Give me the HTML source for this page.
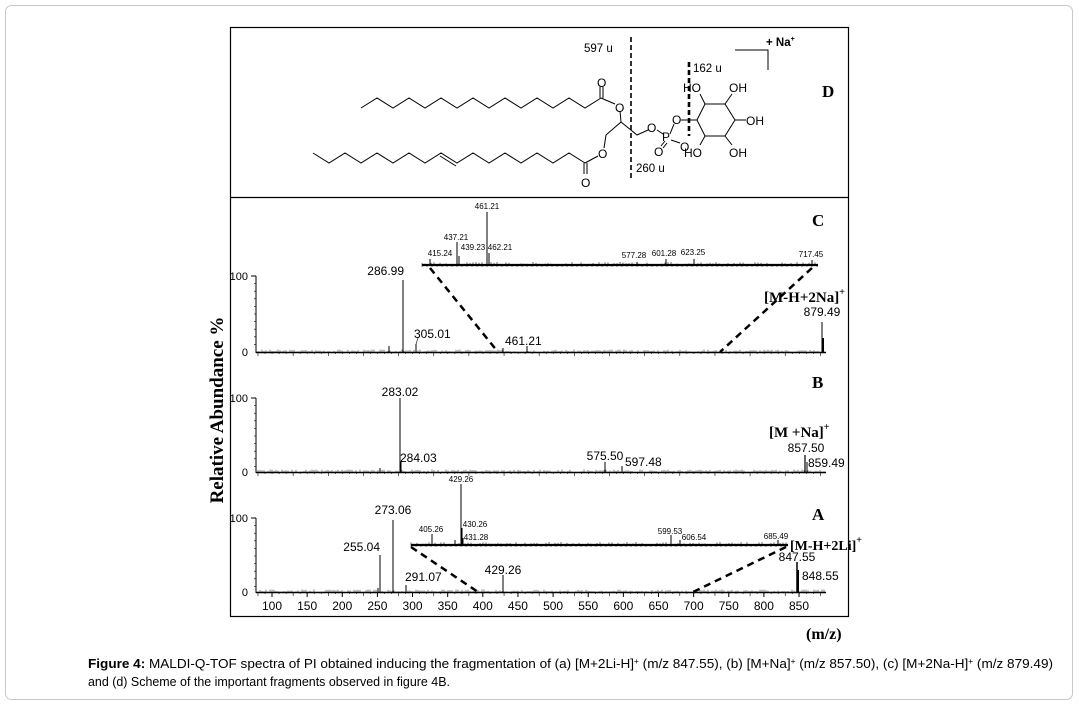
<!DOCTYPE html>
<html><head><meta charset="utf-8"><style>
html,body{margin:0;padding:0;background:#fff;width:1079px;height:704px;overflow:hidden}
svg{display:block}
text{font-family:"Liberation Sans",Arial,sans-serif}
.s{font-family:"Liberation Serif",serif;font-weight:bold}
</style></head><body>
<svg id="g" width="1079" height="704" viewBox="0 0 1079 704" xmlns="http://www.w3.org/2000/svg">
<rect x="5.5" y="5.5" width="1067" height="694" rx="6" fill="#fff" stroke="#c8c8c8"/>
<rect x="230.5" y="27.5" width="618" height="589" fill="none" stroke="#000" stroke-width="1.2"/>
<line x1="230" y1="197.5" x2="849" y2="197.5" stroke="#000" stroke-width="1.2"/>

<!-- Structure D -->
<g fill="none" stroke="#000" stroke-width="1">
<polyline id="c1" points=""/>
<polyline id="c2" points=""/>
<line x1="600" y1="98" x2="600" y2="87"/><line x1="603" y1="98" x2="603" y2="87"/>
<line x1="601" y1="98" x2="615" y2="104"/>
<polyline points="620,111 621,122 606,135 604,148"/>
<polyline points="621,122 637,135 648,130"/>
<line x1="440" y1="156" x2="456" y2="166"/>
<line x1="585" y1="163" x2="598" y2="156"/>
<line x1="584" y1="163" x2="584" y2="174"/><line x1="587" y1="163" x2="587" y2="174"/>
<line x1="657" y1="130" x2="663" y2="134"/>
<line x1="670" y1="134" x2="674" y2="124"/>
<line x1="665" y1="141" x2="661" y2="146"/><line x1="667" y1="143" x2="663" y2="148"/>
<line x1="671" y1="140" x2="680" y2="143"/>
<line x1="681" y1="120" x2="697" y2="120"/>
<polygon points="697,120 705,104 725,104 735,120 725,136 705,136"/>
<line x1="705" y1="104" x2="700" y2="94"/><line x1="725" y1="104" x2="732" y2="94"/>
<line x1="735" y1="120" x2="746" y2="120"/>
<line x1="705" y1="136" x2="700" y2="145"/><line x1="725" y1="136" x2="732" y2="145"/>
</g>
<g font-size="12" fill="#000">
<text x="597" y="87">O</text><text x="615" y="112">O</text><text x="598" y="158">O</text>
<text x="581" y="187">O</text><text x="647" y="132">O</text><text x="662" y="141">P</text>
<text x="654" y="156">O</text><text x="680" y="151">O</text><text x="672" y="124">O</text>
<text x="683" y="92">HO</text><text x="729" y="92">OH</text><text x="746" y="125">OH</text>
<text x="684" y="157">HO</text><text x="729" y="157">OH</text>
<text x="584" y="52" font-size="11.5">597 u</text>
<text x="693" y="72" font-size="11.5">162 u</text>
<text x="636" y="172" font-size="11.5">260 u</text>
<text x="766" y="46" font-size="11.5" font-weight="bold">+ Na<tspan font-size="7" dy="-5">+</tspan></text>
</g>
<line x1="631" y1="37" x2="631" y2="178" stroke="#000" stroke-width="1.6" stroke-dasharray="5,3"/>
<line x1="689" y1="62" x2="689" y2="136" stroke="#000" stroke-width="2.6" stroke-dasharray="5,3"/>
<polyline points="735,50 768,50 768,70" fill="none" stroke="#000"/>
<text x="822" y="97" class="s" font-size="17">D</text>

<!-- Labels -->
<text class="s" font-size="19" transform="translate(223,410) rotate(-90)" text-anchor="middle">Relative Abundance %</text>
<text x="806" y="639" class="s" font-size="16">(m/z)</text>
<text x="88" y="668" font-size="13" textLength="965" lengthAdjust="spacingAndGlyphs"><tspan font-weight="bold">Figure 4:</tspan> MALDI-Q-TOF spectra of PI obtained inducing the fragmentation of (a) [M+2Li-H]<tspan font-size="8" dy="-4">+</tspan><tspan dy="4"> (m/z 847.55), (b) [M+Na]</tspan><tspan font-size="8" dy="-4">+</tspan><tspan dy="4"> (m/z 857.50), (c) [M+2Na-H]</tspan><tspan font-size="8" dy="-4">+</tspan><tspan dy="4"> (m/z 879.49)</tspan></text>
<text x="88" y="686" font-size="13" textLength="362" lengthAdjust="spacingAndGlyphs">and (d) Scheme of the important fragments observed in figure 4B.</text>

<g id="spec" stroke="#000" fill="none"></g>
<g id="txt" font-size="11" fill="#000"></g>
<text x="812" y="226" class="s" font-size="17">C</text>
<text x="812" y="388" class="s" font-size="17">B</text>
<text x="812" y="520" class="s" font-size="17">A</text>
<text x="764" y="302" class="s" font-size="15">[M-H+2Na]<tspan font-size="10" dy="-7">+</tspan></text>
<text x="769" y="437" class="s" font-size="15">[M +Na]<tspan font-size="10" dy="-7">+</tspan></text>
<text x="790" y="550" class="s" font-size="14">[M-H+2Li]<tspan font-size="10" dy="-7">+</tspan></text>
</svg>
<script>
var p1=[],p2=[];for(var i=0;i<=15;i++)p1.push((361+16*i)+','+(i%2?98:108));
for(var i=0;i<=17;i++)p2.push((313+16*i)+','+(i%2?163:153));
document.getElementById('c1').setAttribute('points',p1.join(' '));
document.getElementById('c2').setAttribute('points',p2.join(' '));
var S=document.getElementById('spec'),T=document.getElementById('txt'),ns='http://www.w3.org/2000/svg';
function L(x1,y1,x2,y2,w,d){var l=document.createElementNS(ns,'line');l.setAttribute('x1',x1);l.setAttribute('y1',y1);l.setAttribute('x2',x2);l.setAttribute('y2',y2);l.setAttribute('stroke-width',w||1);if(d)l.setAttribute('stroke-dasharray',d);S.appendChild(l);}
function X(x,y,s,fs,a){var t=document.createElementNS(ns,'text');t.setAttribute('x',x);t.setAttribute('y',y);t.setAttribute('font-size',fs||11);if(a)t.setAttribute('text-anchor',a);t.textContent=s;T.appendChild(t);}
var seed=3;function r(){seed=(seed*9301+49297)%233280;return seed/233280;}
function panel(b,t){L(256,t,256,b+1,1);L(251,t,256,t,1);L(256,b+0.5,826,b+0.5,1.6);X(248,t+4,'100',11,'end');X(248,b+4,'0',11,'end');
 for(var y=t;y<b;y+=7.6)L(254,y,256,y,0.6);
 for(var x=258;x<826;x+=7.03)L(x,b,x,b+(Math.round((x-258)/7.03)%5==0?4:2),0.6);
 for(var x=258;x<826;x+=2)L(x,b,x,b-r()*2.5,0.5);}
function ins(y,x1,x2){L(x1,y,x2,y,2.2);for(var x=x1;x<x2;x+=3)L(x,y,x,y-r()*3,0.6);for(var x=x1;x<x2;x+=5)L(x,y,x,y+2,0.5);}
function pk(x,b,t,w){L(x,b,x,t,w||1);}
// C
panel(352,276);
pk(403,352,280);pk(389,352,346);pk(416,352,344);pk(527,352,346);pk(503,352,348);pk(822,352,322);pk(823,352,338,2);
X(404,275,'286.99',12,'end');X(414,338,'305.01',12);X(505,345,'461.21',12);X(822,316,'879.49',12,'middle');
L(416,344,418,338,0.6);
ins(265,422,818);
pk(487,265,212);pk(457,265,242);pk(459,265,256);pk(489,265,253);pk(430,265,259);pk(637,265,262);pk(666,265,259);pk(694,265,259);pk(812,265,260);
X(487,209,'461.21',8,'middle');X(456,240,'437.21',8,'middle');X(473,250,'439.23',8,'middle');X(500,250,'462.21',8,'middle');
X(440,256,'415.24',8,'middle');X(634,258,'577.28',8,'middle');X(664,256,'601.28',8,'middle');X(693,255,'623.25',8,'middle');X(811,257,'717.45',8,'middle');
L(430,268,498,352,2.5,'7,5');L(812,268,720,352,2.5,'7,5');
// B
panel(472,398);
pk(400,472,398);pk(401,472,462);pk(605,472,462);pk(622,472,466);pk(805,472,455,1.2);pk(807,472,462);pk(380,472,468);
X(400,396,'283.02',12,'middle');X(400,462,'284.03',12);X(605,460,'575.50',12,'middle');X(625,466,'597.48',12);
X(806,452,'857.50',12,'middle');X(808,467,'859.49',12);
// A
panel(592,518);
pk(380,592,555);pk(393,592,520);pk(406,592,585);pk(503,592,575);pk(797,592,562,1.5);pk(798,592,570,2);pk(378,592,588);
X(380,551,'255.04',12,'end');X(393,514,'273.06',12,'middle');X(405,581,'291.07',12);X(503,574,'429.26',12,'middle');
X(797,561,'847.55',12,'middle');X(802,580,'848.55',12);
ins(545,411,788);
pk(461,545,484);pk(432,545,534);pk(462,545,528);pk(463,545,538);pk(455,545,540);pk(671,545,535);pk(680,545,540);pk(778,545,540);
X(461,482,'429.26',8,'middle');X(431,532,'405.26',8,'middle');X(475,527,'430.26',8,'middle');X(476,540,'431.28',8,'middle');
X(670,534,'599.53',8,'middle');X(694,540,'606.54',8,'middle');X(776,539,'685.49',8,'middle');
L(411,547,478,592,2.5,'7,5');L(786,547,693,592,2.5,'7,5');
for(var m=100;m<=850;m+=50){var x=272+(m-100)*0.7027;X(x,610,m,12,'middle');L(x,592,x,597,1);}
</script>
</body></html>
